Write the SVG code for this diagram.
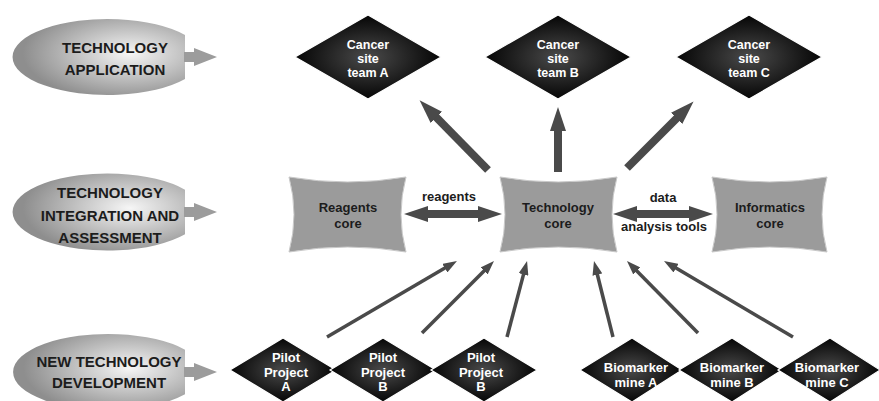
<svg xmlns="http://www.w3.org/2000/svg" width="879" height="401" viewBox="0 0 879 401">
<style>
.lbl{font-family:"Liberation Sans",Arial,sans-serif;font-weight:bold;font-size:15px;fill:#1c1c1c;text-anchor:middle}
.dt{font-family:"Liberation Sans",Arial,sans-serif;font-weight:bold;font-size:13px;fill:#ffffff;text-anchor:middle}
.dts{font-family:"Liberation Sans",Arial,sans-serif;font-weight:bold;font-size:12.5px;fill:#ffffff;text-anchor:middle}
.gt{font-family:"Liberation Sans",Arial,sans-serif;font-weight:bold;font-size:13px;fill:#1c1c1c;text-anchor:middle}
.ell{fill:url(#eg)}
.ea{fill:#9c9c9c}
.dia{fill:url(#dg);stroke:#ffffff;stroke-width:1.2}
.core{fill:#9b9b9b;stroke:#c8c8c8;stroke-width:1}
.thick{stroke:#4a4a4a;stroke-width:8;fill:none}
.thin{stroke:#4a4a4a;stroke-width:3.5;fill:none}
</style>
<defs>
<radialGradient id="eg" cx="0.68" cy="0.45" r="0.62">
<stop offset="0" stop-color="#f6f6f6"/>
<stop offset="1" stop-color="#8e8e8e"/>
</radialGradient>
<radialGradient id="dg" cx="0.5" cy="0.5" r="0.5">
<stop offset="0" stop-color="#4a4a4a"/>
<stop offset="1" stop-color="#050505"/>
</radialGradient>
<marker id="hk" markerUnits="userSpaceOnUse" markerWidth="24" markerHeight="16" refX="2" refY="8" orient="auto-start-reverse">
<path d="M0,0 L24,8 L0,16 Z" fill="#4a4a4a"/>
</marker>
<marker id="hn" markerUnits="userSpaceOnUse" markerWidth="14" markerHeight="10" refX="2" refY="5" orient="auto">
<path d="M0,0 L14,5 L0,10 Z" fill="#4a4a4a"/>
</marker>
</defs>
<rect width="879" height="401" fill="#ffffff"/>

<g id="stage-application">
<path class="ell" d="M185,35 A95,38 0 1 0 185,79 Z"/>
<path class="ea" d="M184,52 L194,52 L194,48 L217,57 L194,66 L194,62 L184,62 Z"/>
<text class="lbl" x="115" y="53">TECHNOLOGY</text>
<text class="lbl" x="115" y="75">APPLICATION</text>
</g>
<g id="stage-integration">
<path class="ell" d="M185,189.7 A95,38.5 0 1 0 185,234.3 Z"/>
<path class="ea" d="M184,207 L194,207 L194,203 L217,212 L194,221 L194,217 L184,217 Z"/>
<text class="lbl" x="110" y="198">TECHNOLOGY</text>
<text class="lbl" x="110" y="221">INTEGRATION AND</text>
<text class="lbl" x="110" y="243">ASSESSMENT</text>
</g>
<g id="stage-development">
<path class="ell" d="M185,349.7 A95,38 0 1 0 185,394.3 Z"/>
<path class="ea" d="M184,367 L194,367 L194,363 L217,372 L194,381 L194,377 L184,377 Z"/>
<text class="lbl" x="109" y="367">NEW TECHNOLOGY</text>
<text class="lbl" x="109" y="388">DEVELOPMENT</text>
</g>

<g id="connectors">
<line class="thick" x1="488" y1="170" x2="435" y2="116" marker-end="url(#hk)"/>
<line class="thick" x1="558" y1="172" x2="558" y2="129" marker-end="url(#hk)"/>
<line class="thick" x1="627" y1="168" x2="678" y2="117" marker-end="url(#hk)"/>
<line class="thick" x1="426" y1="214" x2="480" y2="214" stroke-width="7" marker-start="url(#hk)" marker-end="url(#hk)"/>
<line class="thick" x1="635" y1="214" x2="691" y2="214" stroke-width="7" marker-start="url(#hk)" marker-end="url(#hk)"/>
<line class="thin" x1="327" y1="337" x2="446.6" y2="267.1" marker-end="url(#hn)"/>
<line class="thin" x1="422" y1="333" x2="485.5" y2="269.5" marker-end="url(#hn)"/>
<line class="thin" x1="507" y1="337" x2="524" y2="272.6" marker-end="url(#hn)"/>
<line class="thin" x1="613" y1="337" x2="596.9" y2="272.7" marker-end="url(#hn)"/>
<line class="thin" x1="698" y1="333" x2="635.4" y2="269.5" marker-end="url(#hn)"/>
<line class="thin" x1="793" y1="337" x2="674.3" y2="267.1" marker-end="url(#hn)"/>
<text class="gt" x="449" y="201">reagents</text>
<text class="gt" x="663" y="202">data</text>
<text class="gt" x="664" y="231">analysis tools</text>
</g>

<g id="team-a">
<path class="dia" d="M368,15 L441,57 L368,99 L295,57 Z"/>
<text class="dts" x="368" y="49">Cancer</text>
<text class="dts" x="368" y="63">site</text>
<text class="dts" x="368" y="77">team A</text>
</g>
<g id="team-b">
<path class="dia" d="M558,15 L631,57 L558,99 L485,57 Z"/>
<text class="dts" x="558" y="49">Cancer</text>
<text class="dts" x="558" y="63">site</text>
<text class="dts" x="558" y="77">team B</text>
</g>
<g id="team-c">
<path class="dia" d="M749,15 L822,57 L749,99 L676,57 Z"/>
<text class="dts" x="749" y="49">Cancer</text>
<text class="dts" x="749" y="63">site</text>
<text class="dts" x="749" y="77">team C</text>
</g>

<g id="reagents-core">
<path class="core" d="M289,177 Q348,187 406,177 Q396,214.5 406,252 Q348,242 289,252 Q299,214.5 289,177 Z"/>
<text class="gt" x="348" y="212">Reagents</text>
<text class="gt" x="348" y="228">core</text>
</g>
<g id="technology-core">
<path class="core" d="M500,177 Q558,187 617,177 Q607,214.5 617,252 Q558,242 500,252 Q510,214.5 500,177 Z"/>
<text class="gt" x="558" y="212">Technology</text>
<text class="gt" x="558" y="228">core</text>
</g>
<g id="informatics-core">
<path class="core" d="M712,177 Q770,187 827,177 Q817,214.5 827,252 Q770,242 712,252 Q722,214.5 712,177 Z"/>
<text class="gt" x="770" y="212">Informatics</text>
<text class="gt" x="770" y="228">core</text>
</g>

<g id="pilot-a">
<path class="dia" d="M283,338 L336,370 L283,402 L230,370 Z"/>
<text class="dt" x="286" y="362">Pilot</text>
<text class="dt" x="286" y="377">Project</text>
<text class="dt" x="286" y="391">A</text>
</g>
<g id="pilot-b1">
<path class="dia" d="M383,338 L436,370 L383,402 L330,370 Z"/>
<text class="dt" x="383" y="362">Pilot</text>
<text class="dt" x="383" y="377">Project</text>
<text class="dt" x="383" y="391">B</text>
</g>
<g id="pilot-b2">
<path class="dia" d="M484,338 L537,370 L484,402 L431,370 Z"/>
<text class="dt" x="481" y="362">Pilot</text>
<text class="dt" x="481" y="377">Project</text>
<text class="dt" x="481" y="391">B</text>
</g>

<g id="biomarker-a">
<path class="dia" d="M632,338 L682,370 L632,402 L580,370 Z"/>
<text class="dt" x="636" y="372">Biomarker</text>
<text class="dt" x="636" y="387">mine A</text>
</g>
<g id="biomarker-b">
<path class="dia" d="M732,338 L782,370 L732,402 L679,370 Z"/>
<text class="dt" x="732" y="372">Biomarker</text>
<text class="dt" x="732" y="387">mine B</text>
</g>
<g id="biomarker-c">
<path class="dia" d="M830,338 L880,370 L830,402 L778,370 Z"/>
<text class="dt" x="827" y="372">Biomarker</text>
<text class="dt" x="827" y="387">mine C</text>
</g>
</svg>
